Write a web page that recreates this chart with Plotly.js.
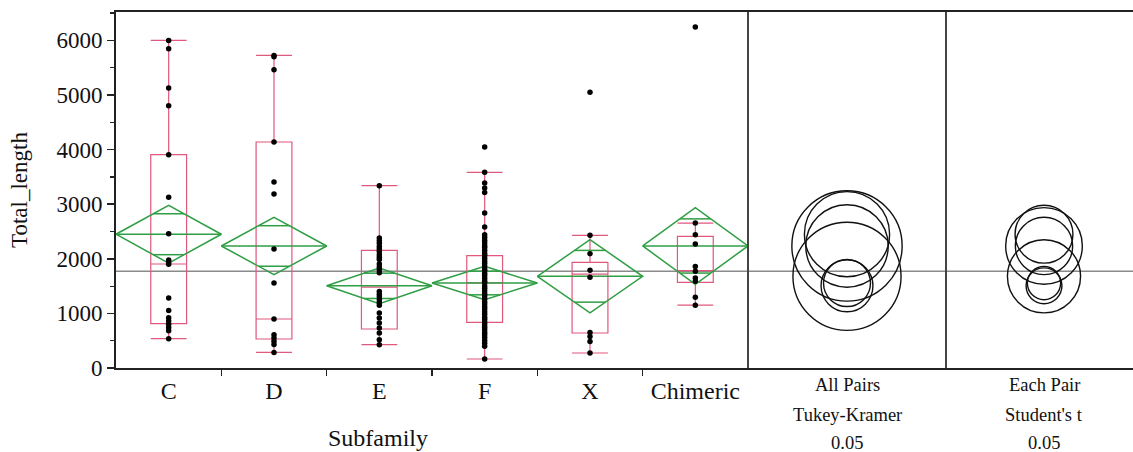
<!DOCTYPE html>
<html>
<head>
<meta charset="utf-8">
<script src="https://cdn.plot.ly/plotly-3.0.1.min.js"></script>
<style>html,body{margin:0;padding:0;background:#fff;}#chart{width:1133px;height:452px;}</style>
</head>
<body>
<div id="chart"></div>
<script>
// ---------- data ----------
const categories = ['C', 'D', 'E', 'F', 'X', 'Chimeric'];

// box plot statistics
const q1 = [811, 531, 714, 836, 641, 1568];
const medians = [1905, 897, 1480, 1560, 1720, 1782];
const q3 = [3907, 4139, 2154, 2057, 1934, 2411];
const lowerWhisker = [537, 286, 427, 165, 275, 1150];
const upperWhisker = [6000, 5725, 3339, 3583, 2430, 2655];

// means diamonds
const means = [2450, 2235, 1505, 1556, 1680, 2235];
const ciHalf = [530, 525, 328, 305, 670, 702];

// comparison circle radii
const tukeyRadius = [780, 755, 475, 430, 990, 1010];
const studentRadius = [530, 525, 328, 305, 670, 702];

const grandMean = 1770;

// individual observations
const pointsC = [6000, 5848, 5128, 4804, 3907, 3125, 2460, 1980, 1940, 1900, 1282, 1055, 920, 860, 800, 740, 680, 537];
const pointsD = [5725, 5700, 5463, 4139, 3406, 3187, 2179, 1557, 897, 610, 550, 490, 430, 286];
const pointsE = [3339, 2381, 2330, 2285, 2225, 2180, 2135, 2075, 2030, 1985, 1905, 1850, 1800, 1745, 1403, 1350, 1305, 1250, 1200, 1150, 1007, 916, 824, 733, 641, 518, 427];
const pointsF = [4047, 3583, 3388, 3297, 3216, 2839, 2582, 2441, 2390, 2335, 2290, 2240, 2205, 2150, 2095, 2060, 2010, 1960, 1920, 1870, 1815, 1780, 1730, 1690, 1640, 1590, 1555, 1500, 1460, 1410, 1360, 1320, 1270, 1215, 1170, 1120, 1080, 1030, 985, 930, 890, 840, 790, 745, 700, 650, 610, 560, 505, 455, 400, 165];
const pointsX = [5048, 2430, 2093, 1788, 1660, 652, 579, 487, 275];
const pointsChimeric = [6245, 2655, 2441, 2271, 1861, 1770, 1648, 1587, 1294, 1150];
const groupPoints = [pointsC, pointsD, pointsE, pointsF, pointsX, pointsChimeric];

const yTicks = [0, 1000, 2000, 3000, 4000, 5000, 6000];
const panelLabels = [['All Pairs', 'Tukey-Kramer', '0.05'], ['Each Pair', "Student's t", '0.05']];

// ---------- layout geometry ----------
const W = 1133, H = 452;
const M = {l: 116, r: 0, t: 12, b: 84};
const plotW = W - M.l - M.r, plotH = H - M.t - M.b;
const d1 = 632 / plotW, d2 = 830 / plotW;
const yMax = 6520;
const upp = yMax / plotH;               // data units per pixel (vertical)
const p2w = (d2 - d1) * plotW;          // panel 2 width px
const p3w = (1 - d2) * plotW;           // panel 3 width px
const p3c = 98;                         // circle centre offset in panel 3, px

const serif = 'Liberation Serif, Times New Roman, serif';
const pink = '#e0587c';
const green = '#2f9e44';

const centers = categories.map((c, i) => i + 0.5);

const traces = [];

traces.push({
  type: 'box', x: centers, q1: q1, median: medians, q3: q3,
  lowerfence: lowerWhisker, upperfence: upperWhisker,
  width: 0.34, whiskerwidth: 1, boxpoints: false,
  line: {color: pink, width: 1.2}, fillcolor: 'rgba(0,0,0,0)',
  xaxis: 'x', yaxis: 'y', hoverinfo: 'skip', showlegend: false
});

// means diamonds
const a = 0.5 * (1 - 1 / Math.SQRT2);
categories.forEach((c, i) => {
  const m = means[i], h = ciHalf[i], o = h / Math.SQRT2, cx = i + 0.5;
  traces.push({
    type: 'scatter', mode: 'lines', xaxis: 'x', yaxis: 'y',
    x: [i, cx, i + 1, cx, i, null, i, i + 1, null, cx - a, cx + a, null, cx - a, cx + a],
    y: [m, m + h, m, m - h, m, null, m, m, null, m + o, m + o, null, m - o, m - o],
    line: {color: green, width: 1.5}, hoverinfo: 'skip', showlegend: false
  });
});

// observations
categories.forEach((c, i) => {
  traces.push({
    type: 'scatter', mode: 'markers', xaxis: 'x', yaxis: 'y',
    x: groupPoints[i].map(() => i + 0.5), y: groupPoints[i],
    marker: {color: '#000', size: 5.5}, hoverinfo: 'skip', showlegend: false
  });
});

// invisible traces to activate the side panels
traces.push({type: 'scatter', mode: 'markers', x: [0], y: [grandMean], xaxis: 'x2', yaxis: 'y', marker: {opacity: 0}, hoverinfo: 'skip', showlegend: false});
traces.push({type: 'scatter', mode: 'markers', x: [0], y: [grandMean], xaxis: 'x3', yaxis: 'y', marker: {opacity: 0}, hoverinfo: 'skip', showlegend: false});

const shapes = [];
shapes.push({type: 'line', xref: 'paper', yref: 'y', x0: 0, x1: 1, y0: grandMean, y1: grandMean, line: {color: '#8a8a8a', width: 1.5}, layer: 'below'});
[d1, d2].forEach(d => shapes.push({type: 'line', xref: 'paper', yref: 'paper', x0: d, x1: d, y0: 0, y1: 1, line: {color: '#444', width: 2}}));

categories.forEach((c, i) => {
  const rt = tukeyRadius[i], rs = studentRadius[i];
  shapes.push({type: 'circle', xref: 'x2', yref: 'y', x0: -rt, x1: rt, y0: means[i] - rt, y1: means[i] + rt, line: {color: '#111', width: 1.4}});
  shapes.push({type: 'circle', xref: 'x3', yref: 'y', x0: -rs, x1: rs, y0: means[i] - rs, y1: means[i] + rs, line: {color: '#111', width: 1.4}});
});

const annotations = [];
annotations.push({text: 'Subfamily', xref: 'paper', yref: 'paper', x: (378 - M.l) / plotW, y: -(438 - 368) / plotH, xanchor: 'center', yanchor: 'middle', showarrow: false, font: {family: serif, size: 24, color: '#111'}});
const labelY = [385, 415, 443];
panelLabels.forEach((lines, p) => {
  lines.forEach((t, k) => {
    annotations.push({text: t, xref: p === 0 ? 'x2' : 'x3', yref: 'paper', x: 0, y: -(labelY[k] - 368) / plotH, xanchor: 'center', yanchor: 'middle', showarrow: false, font: {family: serif, size: 18.5, color: '#111'}});
  });
});

const sideAxis = (domain, range) => ({
  domain: domain, range: range, anchor: 'y', showticklabels: false, ticks: '',
  showgrid: false, zeroline: false, showline: true, mirror: true, linecolor: '#222', linewidth: 2, fixedrange: true
});

const layout = {
  width: W, height: H, margin: M, paper_bgcolor: '#fff', plot_bgcolor: '#fff',
  showlegend: false, font: {family: serif, color: '#111'},
  xaxis: {
    domain: [0, d1], range: [0, 6], anchor: 'y',
    tickmode: 'array', tickvals: centers, ticktext: categories, ticks: '',
    tickfont: {family: serif, size: 24, color: '#111'},
    minor: {tickmode: 'array', tickvals: [1, 2, 3, 4, 5], ticks: 'outside', ticklen: 6, tickcolor: '#222', tickwidth: 1.5},
    showgrid: false, zeroline: false, showline: true, mirror: true, linecolor: '#222', linewidth: 2
  },
  xaxis2: sideAxis([d1, d2], [-p2w / 2 * upp, p2w / 2 * upp]),
  xaxis3: sideAxis([d2, 1], [-p3c * upp, (p3w - p3c) * upp]),
  yaxis: {
    domain: [0, 1], range: [0, yMax], anchor: 'x',
    tickmode: 'array', tickvals: yTicks, ticktext: yTicks.map(String),
    ticks: 'outside', ticklen: 7, tickwidth: 1.5, tickcolor: '#222',
    minor: {dtick: 500, ticks: 'outside', ticklen: 4, tickcolor: '#222', tickwidth: 1.2},
    tickfont: {family: serif, size: 23, color: '#111'},
    title: {text: 'Total_length', font: {family: serif, size: 23, color: '#111'}, standoff: 22},
    showgrid: false, zeroline: false, showline: true, linecolor: '#222', linewidth: 2
  },
  shapes: shapes, annotations: annotations
};

Plotly.newPlot('chart', traces, layout, {staticPlot: true, displayModeBar: false});
</script>
</body>
</html>
